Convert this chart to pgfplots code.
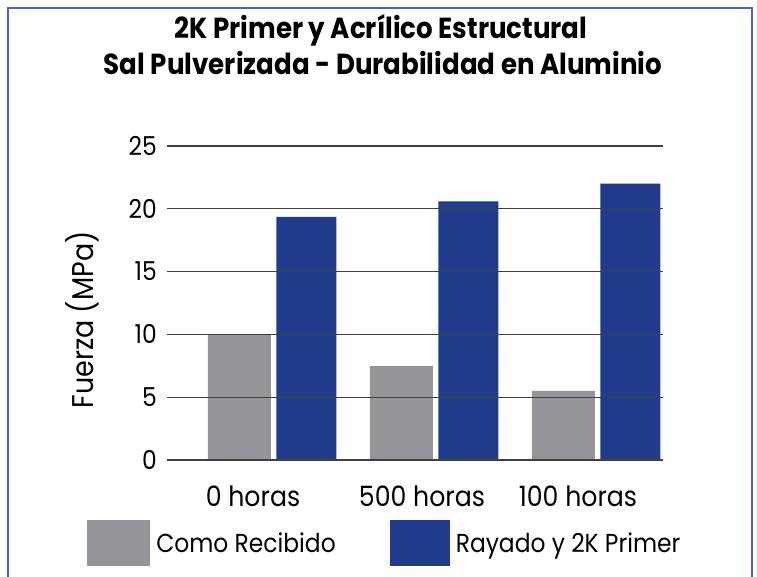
\documentclass[border=0pt]{standalone}
\usepackage{fontspec}
\setmainfont{Poppins}[FakeStretch=0.9]
\usepackage{pgfplots}
\pgfplotsset{compat=1.18}
\definecolor{cgray}{RGB}{147,149,152}
\definecolor{cblue}{RGB}{34,60,140}
\definecolor{cframe}{RGB}{80,96,190}
\begin{document}
\begin{tikzpicture}[x=1pt,y=1pt]
\useasboundingbox (0,0) rectangle (757,576);
\draw[cframe, line width=1.5pt] (8,-10) -- (8,568) -- (752,568) -- (752,-10);
\node[font=\fontsize{29}{30}\selectfont\bfseries] at (381,546) {2K Primer y Acrílico Estructural};
\node[font=\fontsize{29}{30}\selectfont\bfseries] at (383,513) {Sal Pulverizada - Durabilidad en Aluminio};
\begin{axis}[
  at={(167pt,116pt)}, anchor=south west,
  scale only axis, width=496pt, height=314pt,
  xmin=-0.648, xmax=2.414, ymin=0, ymax=25,
  ytick={0,5,10,15,20,25},
  xtick={-0.117,0.926,1.889},
  xticklabels={0 horas,500 horas,100 horas},
  axis line style={draw=none}, tick style={draw=none},
  ymajorgrids, grid style={black!75, line width=1.2pt},
  axis on top,
  /pgf/number format/assume math mode=true,
  yticklabel style={font=\fontsize{26}{26}\selectfont, anchor=east, inner sep=0pt, xshift=-10pt},
  xticklabel style={font=\fontsize{28}{28}\selectfont, anchor=base, inner sep=0pt, yshift=-46pt},
  ylabel={Fuerza (MPa)},
  ylabel style={at={(axis description cs:-0.171,0.446)}, anchor=center, font=\fontsize{30}{30}\selectfont},
  legend style={at={(axis description cs:-0.161,-0.264)}, anchor=west, draw=none, fill=none,
    font=\fontsize{26}{26}\selectfont, inner sep=0pt, nodes={inner sep=0pt},
    /tikz/column sep=6pt, /tikz/every even column/.append style={column sep=54pt}},
  legend columns=2, legend cell align=left,
]
\addplot[ybar, bar width=63pt, bar shift=-32.5pt, fill=cgray, draw=none,
  legend image code/.code={\fill[cgray] (0pt,-23pt) rectangle (63pt,23pt);}]
  coordinates {(0,10.0) (1,7.48) (2,5.5)};
\addplot[ybar, bar width=60pt, bar shift=34.5pt, fill=cblue, draw=none,
  legend image code/.code={\fill[cblue] (0pt,-23pt) rectangle (60pt,23pt);}]
  coordinates {(0,19.35) (1,20.6) (2,22.0)};
\legend{Como Recibido, Rayado y 2K Primer}
\end{axis}
\end{tikzpicture}
\end{document}
